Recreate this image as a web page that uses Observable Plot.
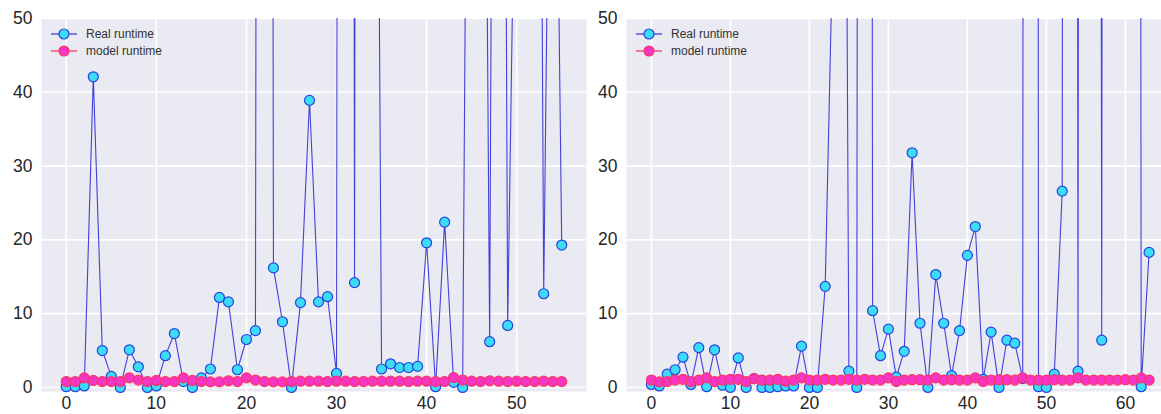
<!DOCTYPE html>
<html>
<head>
<meta charset="utf-8">
<script src="https://cdn.jsdelivr.net/npm/d3@7"></script>
<script src="https://cdn.jsdelivr.net/npm/@observablehq/plot@0.6"></script>
<style>
  html, body { margin: 0; padding: 0; background: #ffffff; overflow: hidden; }
  #wrap { position: relative; width: 1161px; height: 414px; overflow: hidden; }
  .panel { position: absolute; top: 0; }
</style>
</head>
<body>
<div id="wrap"></div>
<script>
// ---- data ----
// values above 50 are clipped in the reference; magnitudes estimated from line slopes
const leftReal = [0.1, 0.1, 0.2, 42.1, 5.0, 1.5, 0.0, 5.1, 2.8, 0.0,
  0.2, 4.3, 7.3, 0.8, 0.0, 1.3, 2.5, 12.2, 11.6, 2.4,
  6.5, 7.7, 800, 16.2, 8.9, 0.0, 11.5, 38.9, 11.6, 12.3,
  1.9, 1000, 14.2, 900, 200, 2.5, 3.2, 2.7, 2.7, 2.85,
  19.6, 0.1, 22.4, 0.7, 0.0, 180, 177, 6.2, 290, 8.4,
  90, 150, 237, 12.7, 122, 19.3];
const leftModel = [0.8, 0.8, 1.3, 0.95, 0.8, 0.8, 0.8, 1.3, 1.0, 0.8,
  0.95, 0.8, 0.8, 1.3, 0.95, 0.8, 0.75, 0.75, 0.9, 0.8,
  1.3, 1.0, 0.8, 0.75, 0.75, 0.8, 0.85, 0.85, 0.85, 0.8,
  0.85, 0.85, 0.8, 0.8, 0.85, 0.85, 0.85, 0.85, 0.8, 0.85,
  0.85, 0.8, 0.8, 1.35, 1.0, 0.85, 0.8, 0.9, 0.85, 0.8,
  0.85, 0.8, 0.8, 0.85, 0.8, 0.8];
const rightReal = [0.4, 0.2, 1.8, 2.4, 4.1, 0.4, 5.4, 0.1, 5.1, 0.3,
  0.0, 4.0, 0.0, 1.2, 0.0, 0.0, 0.1, 0.2, 0.2, 5.6,
  0.0, 0.0, 13.7, 62, 212, 2.2, 0.0, 1000, 10.4, 4.3,
  7.9, 1.4, 4.9, 31.8, 8.7, 0.0, 15.3, 8.7, 1.6, 7.7,
  17.9, 21.8, 1.1, 7.5, 0.0, 6.4, 6.0, 1.2, 1500, 0.1,
  0.0, 1.8, 26.6, 1200, 2.2, 1100, 900, 6.4, 1300, 400,
  600, 1000, 0.1, 18.3];
const rightModel = [1.0, 0.75, 0.8, 1.0, 1.1, 0.8, 1.0, 1.3, 0.8, 1.0,
  1.1, 1.1, 0.8, 1.2, 1.0, 1.0, 1.1, 0.85, 1.0, 1.3,
  1.0, 1.0, 1.1, 1.0, 1.0, 1.1, 1.0, 1.1, 1.0, 1.0,
  1.3, 0.8, 1.0, 1.05, 1.05, 1.0, 1.3, 1.0, 1.05, 1.0,
  1.0, 1.3, 0.8, 1.0, 1.05, 1.05, 1.0, 1.3, 1.0, 1.0,
  1.0, 1.05, 1.0, 1.0, 1.3, 1.0, 1.0, 1.0, 1.0, 1.0,
  1.05, 1.0, 1.3, 1.0];
const leftXTicks = [0, 10, 20, 30, 40, 50];
const rightXTicks = [0, 10, 20, 30, 40, 50, 60];
const yTicks = [0, 10, 20, 30, 40, 50];
const seriesNames = ["Real runtime", "model runtime"];

// ---- styling ----
const FONT = "'Liberation Sans', Arial, sans-serif";
const BG = "#eaeaf2";
const realStyle = {line: "#3030d8", fill: "#3ddcf6", edge: "#2545e0"};
const modelStyle = {line: "#ee3050", fill: "#f536c4", edge: "#ff3366"};

function toRows(arr) { return arr.map((v, i) => ({x: i, y: v})); }

function panel({real, model, xTicks, xDomain, width, marginLeft, marginRight, left}) {
  const realRows = toRows(real), modelRows = toRows(model);
  const ymax = 50;
  const chart = Plot.plot({
    width, height: 414,
    marginLeft, marginRight, marginTop: 18, marginBottom: 23,
    x: {domain: xDomain, label: null},
    y: {domain: [-0.55, ymax], label: null},
    style: {fontFamily: FONT, fontSize: "17.5px", color: "#262626", background: "transparent", overflow: "visible"},
    marks: [
      Plot.frame({fill: BG, stroke: null}),
      Plot.gridX(xTicks, {stroke: "#ffffff", strokeOpacity: 1, strokeWidth: 1.6}),
      Plot.gridY(yTicks, {stroke: "#ffffff", strokeOpacity: 1, strokeWidth: 1.6}),
      Plot.axisX(xTicks, {tickSize: 0, tickPadding: 5, fill: "#262626", fontSize: 17.5}),
      Plot.axisY(yTicks, {tickSize: 0, tickPadding: 9, fill: "#262626", fontSize: 17.5}),
      Plot.line(realRows, {x: "x", y: "y", stroke: realStyle.line, strokeWidth: 1.1, strokeOpacity: 0.9, clip: true}),
      Plot.dot(realRows.filter(d => d.y <= ymax), {x: "x", y: "y", r: 5, fill: realStyle.fill, stroke: realStyle.edge, strokeWidth: 1.2}),
      Plot.line(modelRows, {x: "x", y: "y", stroke: modelStyle.line, strokeWidth: 1.1, strokeOpacity: 0.9, clip: true}),
      Plot.dot(modelRows.filter(d => d.y <= ymax), {x: "x", y: "y", r: 5, fill: modelStyle.fill, stroke: modelStyle.edge, strokeWidth: 1.2})
    ]
  });
  // legend (upper left inside the axes)
  const svg = d3.select(chart);
  const lg = svg.append("g").attr("transform", `translate(${marginLeft + 10},34)`);
  [realStyle, modelStyle].forEach((s, k) => {
    const g = lg.append("g").attr("transform", `translate(0,${k * 17})`);
    g.append("line").attr("x1", 0).attr("x2", 26).attr("y1", 0).attr("y2", 0)
      .attr("stroke", s.line).attr("stroke-width", 1.2);
    g.append("circle").attr("cx", 13).attr("cy", 0).attr("r", 5)
      .attr("fill", s.fill).attr("stroke", s.edge).attr("stroke-width", 1.2);
    g.append("text").attr("x", 35).attr("y", 0).attr("dy", "0.35em")
      .attr("text-anchor", "start")
      .attr("font-family", FONT).attr("font-size", 12).attr("fill", "#333333")
      .text(seriesNames[k]);
  });
  chart.classList.add("panel");
  chart.style.left = left + "px";
  return chart;
}

const wrap = document.getElementById("wrap");
wrap.appendChild(panel({
  real: leftReal, model: leftModel, xTicks: leftXTicks,
  xDomain: [-2.75, 57.75], width: 600, marginLeft: 41, marginRight: 14, left: 0
}));
wrap.appendChild(panel({
  real: rightReal, model: rightModel, xTicks: rightXTicks,
  xDomain: [-3.15, 66.15], width: 600, marginLeft: 36, marginRight: 16.5, left: 590
}));
</script>
</body>
</html>
